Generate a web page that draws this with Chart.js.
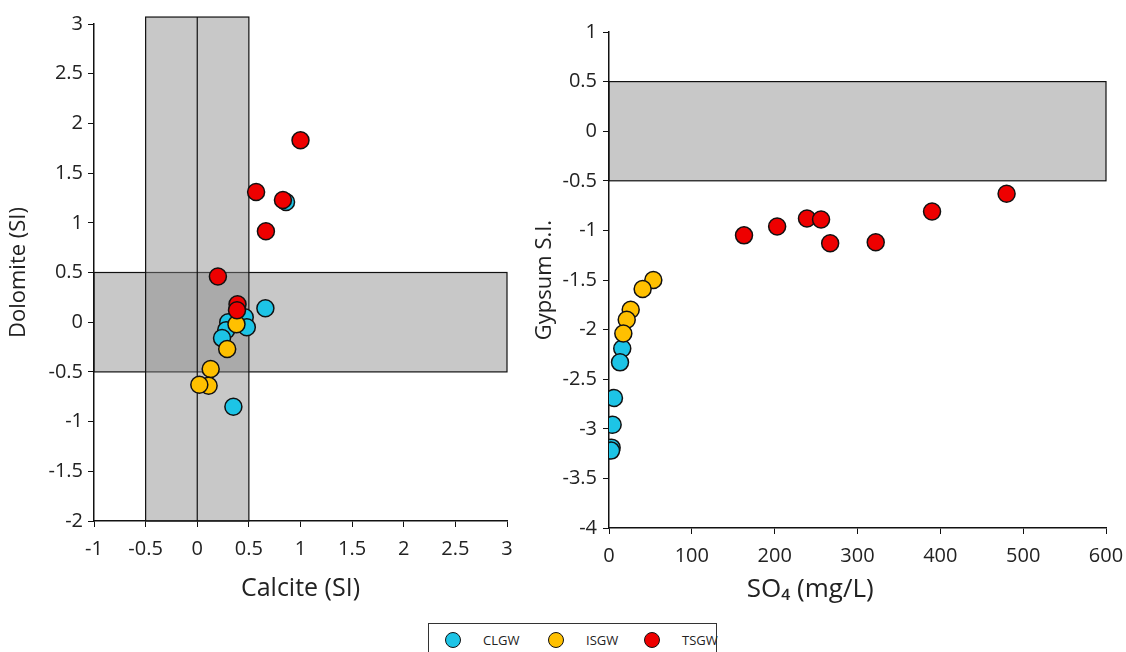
<!DOCTYPE html>
<html>
<head>
<meta charset="utf-8">
<script src="https://cdn.jsdelivr.net/npm/chart.js@4.4.1/dist/chart.umd.min.js"></script>
<style>
  body { margin: 0; background: #fff; width: 1126px; height: 652px; overflow: hidden; position: relative; font-family: "Open Sans", sans-serif; }
  #leftWrap { position: absolute; left: 0; top: 0; width: 525px; height: 610px; }
  #rightWrap { position: absolute; left: 525px; top: 0; width: 615px; height: 610px; }
  #legend { position: absolute; left: 428px; top: 623px; width: 289px; height: 40px; border: 1.5px solid #333; box-sizing: border-box; }
  .item { position: absolute; top: 8px; font-size: 13px; color: #222; line-height: 16px; }
  .dot { position: absolute; top: 0; left: 0; width: 16px; height: 16px; border-radius: 50%; border: 1.5px solid #111; box-sizing: border-box; }
  .item span.lbl { position: absolute; left: 38px; top: 0; }
</style>
</head>
<body>
<div id="leftWrap"><canvas id="calciteChart"></canvas></div>
<div id="rightWrap"><canvas id="gypsumChart"></canvas></div>
<div id="legend"></div>
<script>
// Left panel: saturation indices
var clgwCalcite = [0.86, 0.66, 0.46, 0.48, 0.30, 0.28, 0.24, 0.35];
var clgwDolomite = [1.21, 0.14, 0.05, -0.05, 0.00, -0.08, -0.16, -0.85];
var isgwCalcite = [0.38, 0.29, 0.13, 0.11, 0.02];
var isgwDolomite = [-0.02, -0.27, -0.47, -0.64, -0.63];
var tsgwCalcite = [1.00, 0.57, 0.83, 0.665, 0.20, 0.39, 0.385];
var tsgwDolomite = [1.83, 1.31, 1.23, 0.915, 0.46, 0.18, 0.12];

// Right panel: SO4 vs gypsum SI
var clgwSO4 = [16, 13.3, 6, 4.4, 3.2, 2.5];
var clgwGypsum = [-2.19, -2.33, -2.69, -2.96, -3.19, -3.22];
var isgwSO4 = [53.5, 40.6, 26.2, 21.4, 17.3];
var isgwGypsum = [-1.50, -1.59, -1.80, -1.90, -2.04];
var tsgwSO4 = [163, 203, 239, 256, 267, 322, 390, 480];
var tsgwGypsum = [-1.05, -0.96, -0.88, -0.89, -1.13, -1.12, -0.81, -0.63];

// Equilibrium bands (data units)
var leftBandsX = [[-1, 3], [-0.5, 0.5]];
var leftBandsY = [[-0.5, 0.5], [-2, 3.07]];
var leftLineX = [0];
var rightBandsX = [[0, 600]];
var rightBandsY = [[-0.5, 0.5]];

var groups = ['CLGW', 'ISGW', 'TSGW'];
var groupColors = ['#1dc4e6', '#ffc000', '#ee0000'];

function pts(xs, ys) {
    return xs.map(function(v, i) { return {x: v, y: ys[i]}; });
}

var bandPlugin = {
    id: 'bands',
    beforeDatasetsDraw: function(chart, args, opts) {
        var ctx = chart.ctx, x = chart.scales.x, y = chart.scales.y;
        ctx.save();
        opts.xs.forEach(function(bx, i) {
            var by = opts.ys[i];
            var l = x.getPixelForValue(bx[0]), r = x.getPixelForValue(bx[1]);
            var t = y.getPixelForValue(by[1]), b = y.getPixelForValue(by[0]);
            ctx.fillStyle = opts.fill;
            ctx.fillRect(l, t, r - l, b - t);
            ctx.strokeStyle = '#111';
            ctx.lineWidth = 1.2;
            ctx.strokeRect(l, t, r - l, b - t);
        });
        (opts.lines || []).forEach(function(v) {
            var px = x.getPixelForValue(v);
            ctx.beginPath();
            ctx.moveTo(px, y.getPixelForValue(-2));
            ctx.lineTo(px, y.getPixelForValue(opts.lineTop));
            ctx.strokeStyle = '#111';
            ctx.lineWidth = 1.2;
            ctx.stroke();
        });
        ctx.restore();
    }
};

// x title of the right panel sits off-centre in the original, so draw it by hand
var offTitlePlugin = {
    id: 'offTitle',
    afterDraw: function(chart, args, opts) {
        if (!opts.text) return;
        var ctx = chart.ctx;
        ctx.save();
        ctx.font = opts.size + 'px "Open Sans"';
        ctx.fillStyle = '#222';
        ctx.textAlign = 'center';
        ctx.textBaseline = 'middle';
        ctx.fillText(opts.text, chart.scales.x.getPixelForValue(opts.at), chart.scales.x.bottom - opts.lift);
        ctx.restore();
    }
};

function makeDatasets(sets) {
    return sets.map(function(d, i) {
        return {
            label: groups[i],
            data: d,
            backgroundColor: groupColors[i],
            borderColor: '#111',
            borderWidth: 1.5,
            pointRadius: 8.5,
            pointHoverRadius: 8.5,
            order: 3 - i
        };
    });
}

function axis(min, max, step, title, titleSize, fitSize, isX, pad, titlePad) {
    return {
        type: 'linear',
        min: min,
        max: max,
        ticks: {
            stepSize: step,
            color: '#222',
            font: { family: 'Open Sans', size: 20 },
            padding: pad,
            callback: function(v) { return String(+v.toFixed(1)); }
        },
        grid: { drawOnChartArea: false, drawTicks: true, tickLength: 6, color: '#111' },
        border: { color: '#111', width: 1.5 },
        title: { display: !!title, text: title, color: '#222', font: { family: 'Open Sans', size: titleSize }, padding: titlePad },
        afterFit: function(s) { if (isX) { s.height = fitSize; } else { s.width = fitSize; } }
    };
}

new Chart(document.getElementById('calciteChart'), {
    type: 'scatter',
    data: { datasets: makeDatasets([pts(clgwCalcite, clgwDolomite), pts(isgwCalcite, isgwDolomite), pts(tsgwCalcite, tsgwDolomite)]) },
    options: {
        responsive: true,
        maintainAspectRatio: false,
        animation: false,
        layout: { padding: { left: 0, right: 18, top: 24, bottom: 0 } },
        scales: {
            x: axis(-1, 3, 0.5, 'Calcite (SI)', 25, 89, true, 10, {top: 0, bottom: 6}),
            y: axis(-2, 3, 0.5, 'Dolomite (SI)', 22, 94, false, 5, {top: 6, bottom: 0})
        },
        plugins: {
            legend: { display: false },
            tooltip: { enabled: false },
            bands: { xs: leftBandsX, ys: leftBandsY, lines: leftLineX, lineTop: 3.07, fill: 'rgba(134,134,134,0.45)' },
            offTitle: {}
        }
    },
    plugins: [bandPlugin, offTitlePlugin]
});

new Chart(document.getElementById('gypsumChart'), {
    type: 'scatter',
    data: { datasets: makeDatasets([pts(clgwSO4, clgwGypsum), pts(isgwSO4, isgwGypsum), pts(tsgwSO4, tsgwGypsum)]) },
    options: {
        responsive: true,
        maintainAspectRatio: false,
        animation: false,
        layout: { padding: { left: 0, right: 34, top: 32, bottom: 0 } },
        scales: {
            x: axis(0, 600, 100, '', 25, 82, true, 10, {top: 0, bottom: 6}),
            y: axis(-4, 1, 0.5, 'Gypsum S.I.', 22, 84, false, 6, {top: 7, bottom: 0})
        },
        plugins: {
            legend: { display: false },
            tooltip: { enabled: false },
            bands: { xs: rightBandsX, ys: rightBandsY, fill: 'rgba(134,134,134,0.45)' },
            offTitle: { text: 'SO\u2084 (mg/L)', at: 243, size: 26, lift: 20 }
        }
    },
    plugins: [bandPlugin, offTitlePlugin]
});

// legend
var legendX = [16, 119, 215];
var legendEl = document.getElementById('legend');
groups.forEach(function(g, i) {
    var it = document.createElement('div');
    it.className = 'item';
    it.style.left = legendX[i] + 'px';
    it.innerHTML = '<div class="dot" style="background:' + groupColors[i] + '"></div><span class="lbl">' + g + '</span>';
    legendEl.appendChild(it);
});
</script>
</body>
</html>
